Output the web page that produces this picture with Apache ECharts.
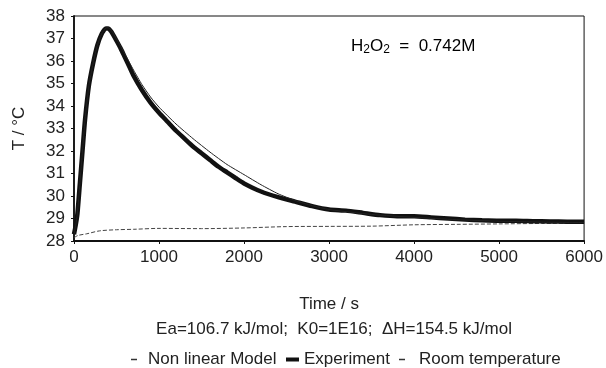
<!DOCTYPE html>
<html><head><meta charset="utf-8">
<script src="https://cdn.jsdelivr.net/npm/echarts@6/dist/echarts.min.js"></script>
<style>html,body{margin:0;padding:0;background:#fff}#c{width:606px;height:368px}</style>
</head><body><div id="c"></div>
<script>
const expTime = [0,20,40,70,100,130,175,225,275,325,375,400,440,500,550,600,650,700,800,900,1000,1100,1200,1300,1400,1500,1600,1700,1800,1900,2000,2200,2400,2600,2800,3000,3200,3400,3600,3800,4000,4200,4400,4600,4800,5000,5200,5400,5600,5800,6000];
const expTemp = [28.3,28.7,29.2,30.6,32.0,33.4,34.9,35.9,36.7,37.2,37.45,37.45,37.3,36.9,36.55,36.15,35.75,35.35,34.7,34.15,33.7,33.3,32.9,32.55,32.2,31.9,31.6,31.3,31.05,30.8,30.56,30.2,29.95,29.75,29.55,29.4,29.35,29.25,29.15,29.1,29.1,29.05,29.0,28.95,28.92,28.9,28.9,28.88,28.87,28.86,28.86];
const modelTime = [0,20,40,70,100,130,175,225,275,325,375,400,440,500,550,600,650,700,800,900,1000,1200,1400,1600,1800,2000,2200,2400,2600,2800,3000,3500,4000,4500,5000,5500,6000];
const modelTemp = [28.3,28.7,29.2,30.6,32.0,33.4,34.9,35.9,36.7,37.2,37.47,37.48,37.35,36.98,36.65,36.3,35.95,35.6,34.95,34.4,33.95,33.2,32.55,31.95,31.4,30.95,30.5,30.1,29.8,29.57,29.4,29.18,29.05,28.95,28.88,28.84,28.82];
const roomTime = [0,50,150,300,500,700,1000,1500,2000,2500,3000,3500,4000,4500,5000,5500,6000];
const roomTemp = [28.15,28.25,28.32,28.45,28.5,28.52,28.56,28.55,28.58,28.64,28.65,28.66,28.72,28.74,28.76,28.78,28.8];
const xTicks = [0,1000,2000,3000,4000,5000,6000];
const yTicks = [28,29,30,31,32,33,34,35,36,37,38];

const pair = (xs, ys) => xs.map((x, i) => [x, ys[i]]);
const font = 'Liberation Sans, Arial, sans-serif';
const txt = {fontFamily: font, fontSize: 17, color: '#222'};
const chart = echarts.init(document.getElementById('c'));
chart.setOption({
  animation: false,
  backgroundColor: '#fff',
  grid: {left: 74, right: 18, top: 16, bottom: 127, show: true, borderColor: '#111', borderWidth: 1},
  xAxis: {
    type: 'value', min: xTicks[0], max: xTicks[xTicks.length-1], interval: 1000,
    name: 'Time / s', nameLocation: 'middle', nameGap: 55,
    nameTextStyle: txt,
    axisLine: {lineStyle: {color: '#111', width: 1.8}},
    axisTick: {show: true, length: 3, lineStyle: {color: '#111'}},
    axisLabel: Object.assign({margin: 8, formatter: v => String(v)}, txt),
    splitLine: {show: false}
  },
  yAxis: {
    type: 'value', min: yTicks[0], max: yTicks[yTicks.length-1], interval: 1,
    name: 'T / °C', nameLocation: 'middle', nameGap: 46, nameRotate: 90,
    nameTextStyle: txt,
    axisLine: {show: true, lineStyle: {color: '#111', width: 1.8}},
    axisTick: {show: true, length: 3, lineStyle: {color: '#111'}},
    axisLabel: Object.assign({margin: 9}, txt),
    splitLine: {show: false}
  },
  legend: [
    {top: 346, left: 126, itemWidth: 6, itemHeight: 1.5, textStyle: Object.assign({padding: [0,0,0,6]}, txt),
     data: [{name: 'Non linear Model', icon: 'rect', itemStyle: {color: '#333'}}]},
    {top: 346, left: 281, itemWidth: 13, itemHeight: 4, textStyle: txt,
     data: [{name: 'Experiment', icon: 'rect', itemStyle: {color: '#111'}}]},
    {top: 346, left: 394, itemWidth: 6, itemHeight: 1.5, textStyle: Object.assign({padding: [0,0,0,9]}, txt),
     data: [{name: 'Room temperature', icon: 'rect', itemStyle: {color: '#333'}}]}
  ],
  graphic: [
    {type: 'text', x: 334, y: 329, style: {text: 'Ea=106.7 kJ/mol;  K0=1E16;  \u0394H=154.5 kJ/mol', font: '17px ' + font, fill: '#222', align: 'center', verticalAlign: 'middle'}},
    {type: 'text', left: 351, top: 38, style: {
      text: '{n|H}{s|2}{n|O}{s|2}{n|  =  0.742M}',
      rich: {n: {fontFamily: font, fontSize: 17, color: '#222'}, s: {fontFamily: font, fontSize: 12, color: '#222', verticalAlign: 'bottom', padding: [7,0,0,0]}}
    }}
  ],
  series: [
    {name: 'Experiment', type: 'line', data: pair(expTime, expTemp), smooth: 0.2, showSymbol: false, lineStyle: {color: '#111', width: 4.5}, z: 2},
    {name: 'Non linear Model', type: 'line', data: pair(modelTime, modelTemp), smooth: 0.2, showSymbol: false, lineStyle: {color: '#222', width: 1}, z: 3},
    {name: 'Room temperature', type: 'line', data: pair(roomTime, roomTemp), smooth: 0.3, showSymbol: false, lineStyle: {color: '#444', width: 1, type: [4, 2]}, z: 1}
  ]
});
</script></body></html>
